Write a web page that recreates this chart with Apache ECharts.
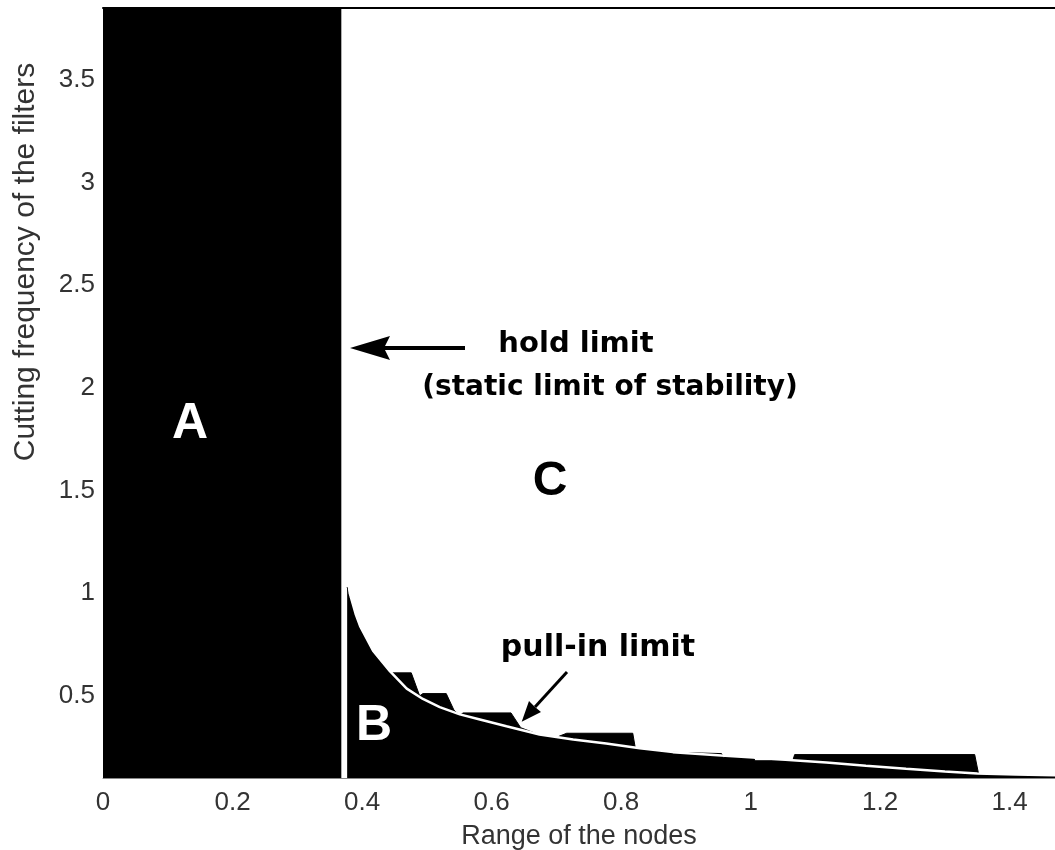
<!DOCTYPE html>
<html>
<head>
<meta charset="utf-8">
<script src="https://cdn.jsdelivr.net/npm/echarts@6/dist/echarts.min.js"></script>
<style>
  html, body { margin: 0; padding: 0; background: #fff; }
  #main { width: 1055px; height: 850px; }
</style>
</head>
<body>
<div id="main"></div>
<script>
// axis ticks
const xTicks = [0, 0.2, 0.4, 0.6, 0.8, 1, 1.2, 1.4];
const yTicks = [0.5, 1, 1.5, 2, 2.5, 3, 3.5];

// region A (below the hold limit)
const regionAX = [0, 0.368];
const regionAY = [3.85, 3.85];

// region B outer boundary (with the stepped bands)
const regionBX = [0.377, 0.381, 0.39, 0.397, 0.417, 0.443, 0.447, 0.476, 0.489, 0.494, 0.53, 0.542, 0.551, 0.556, 0.63, 0.645, 0.674, 0.70, 0.716, 0.818, 0.822, 0.829, 0.88, 0.955, 0.958, 1.004, 1.007, 1.065, 1.068, 1.346, 1.352, 1.41, 1.47];
const regionBY = [1.03, 0.98, 0.89, 0.83, 0.715, 0.615, 0.612, 0.612, 0.5, 0.511, 0.511, 0.43, 0.405, 0.417, 0.417, 0.345, 0.31, 0.298, 0.318, 0.318, 0.245, 0.244, 0.225, 0.219, 0.2, 0.2, 0.184, 0.184, 0.214, 0.214, 0.12, 0.116, 0.112];

// pull-in limit curve
const pullX = [0.377, 0.381, 0.39, 0.397, 0.417, 0.443, 0.469, 0.494, 0.52, 0.551, 0.582, 0.623, 0.674, 0.726, 0.777, 0.829, 0.88, 0.955, 1.004, 1.065, 1.117, 1.178, 1.24, 1.30, 1.35, 1.41, 1.47];
const pullY = [1.1, 1.0, 0.9, 0.84, 0.72, 0.62, 0.535, 0.485, 0.445, 0.41, 0.385, 0.352, 0.312, 0.288, 0.268, 0.245, 0.226, 0.21, 0.2, 0.187, 0.176, 0.16, 0.145, 0.132, 0.122, 0.117, 0.113];

const zip = (xs, ys) => xs.map((x, i) => [x, ys[i]]);

const chart = echarts.init(document.getElementById('main'));

const labelFont = {
  fontFamily: 'Liberation Sans, Arial, sans-serif',
  fontSize: 26,
  color: '#333'
};

const option = {
  animation: false,
  backgroundColor: '#fff',
  grid: { left: 103, right: 0, top: 8, bottom: 72, containLabel: false, outerBoundsMode: 'none' },
  xAxis: [
    {
      type: 'value',
      min: 0,
      max: 1.47,
      name: 'Range of the nodes',
      nameLocation: 'middle',
      nameGap: 45,
      nameTextStyle: Object.assign({}, labelFont, { fontSize: 27 }),
      axisLine: { lineStyle: { color: '#888', width: 1 } },
      axisTick: { show: false },
      splitLine: { show: false },
      axisLabel: Object.assign({ customValues: xTicks, margin: 12 }, labelFont)
    },
    {
      type: 'value',
      position: 'top',
      min: 0,
      max: 1.47,
      axisLine: { show: true, lineStyle: { color: '#000', width: 2 } },
      axisTick: { show: false },
      axisLabel: { show: false },
      splitLine: { show: false }
    }
  ],
  yAxis: {
    type: 'value',
    min: 0.1,
    max: 3.85,
    axisLine: { show: true, lineStyle: { color: '#888', width: 1 } },
    axisTick: { show: false },
    splitLine: { show: false },
    axisLabel: Object.assign({ customValues: yTicks, margin: 8 }, labelFont)
  },
  series: [
    {
      name: 'A',
      type: 'line',
      data: zip(regionAX, regionAY),
      symbol: 'none',
      lineStyle: { color: '#000', width: 0 },
      areaStyle: { color: '#000', opacity: 1, origin: 'start' },
      z: 2
    },
    {
      name: 'B',
      type: 'line',
      data: zip(regionBX, regionBY),
      symbol: 'none',
      lineStyle: { color: '#000', width: 1 },
      areaStyle: { color: '#000', opacity: 1, origin: 'start' },
      z: 2
    },
    {
      name: 'pull-in limit',
      type: 'line',
      data: zip(pullX, pullY),
      symbol: 'none',
      lineStyle: { color: '#fff', width: 2.5 },
      z: 3
    }
  ],
  graphic: [
    {
      type: 'text',
      x: 26, y: 262,
      rotation: Math.PI / 2,
      style: {
        text: 'Cutting frequency of the filters',
        fill: '#333',
        font: '30px "Liberation Sans", Arial, sans-serif',
        textAlign: 'center',
        textVerticalAlign: 'middle'
      }
    },
    {
      type: 'text',
      style: { text: 'A', x: 190, y: 424, fill: '#fff', font: 'bold 50px "Liberation Sans", Arial, sans-serif', textAlign: 'center', textVerticalAlign: 'middle' },
      z: 10
    },
    {
      type: 'text',
      style: { text: 'B', x: 374, y: 726, fill: '#fff', font: 'bold 50px "Liberation Sans", Arial, sans-serif', textAlign: 'center', textVerticalAlign: 'middle' },
      z: 10
    },
    {
      type: 'text',
      style: { text: 'C', x: 550, y: 482, fill: '#000', font: 'bold 48px "Liberation Sans", Arial, sans-serif', textAlign: 'center', textVerticalAlign: 'middle' },
      z: 10
    },
    {
      type: 'text',
      style: { text: 'hold limit', x: 576, y: 344, fill: '#000', font: 'bold 29px "DejaVu Sans", sans-serif', textAlign: 'center', textVerticalAlign: 'middle' },
      z: 10
    },
    {
      type: 'text',
      style: { text: '(static limit of stability)', x: 610, y: 388, fill: '#000', font: 'bold 28px "DejaVu Sans", sans-serif', textAlign: 'center', textVerticalAlign: 'middle' },
      z: 10
    },
    {
      type: 'text',
      style: { text: 'pull-in limit', x: 598, y: 648, fill: '#000', font: 'bold 30px "DejaVu Sans", sans-serif', textAlign: 'center', textVerticalAlign: 'middle' },
      z: 10
    },
    // hold limit arrow
    {
      type: 'line',
      shape: { x1: 465, y1: 348, x2: 380, y2: 348 },
      style: { stroke: '#000', lineWidth: 4 },
      z: 10
    },
    {
      type: 'polygon',
      shape: { points: [[350, 348], [390, 336], [384, 348], [390, 360]] },
      style: { fill: '#000' },
      z: 10
    },
    // pull-in arrow
    {
      type: 'line',
      shape: { x1: 567, y1: 672, x2: 535, y2: 707 },
      style: { stroke: '#000', lineWidth: 3 },
      z: 10
    },
    {
      type: 'polygon',
      shape: { points: [[521.7, 721.7], [541, 712], [535, 707], [529, 701]] },
      style: { fill: '#000' },
      z: 10
    }
  ]
};

chart.setOption(option);
</script>
</body>
</html>
